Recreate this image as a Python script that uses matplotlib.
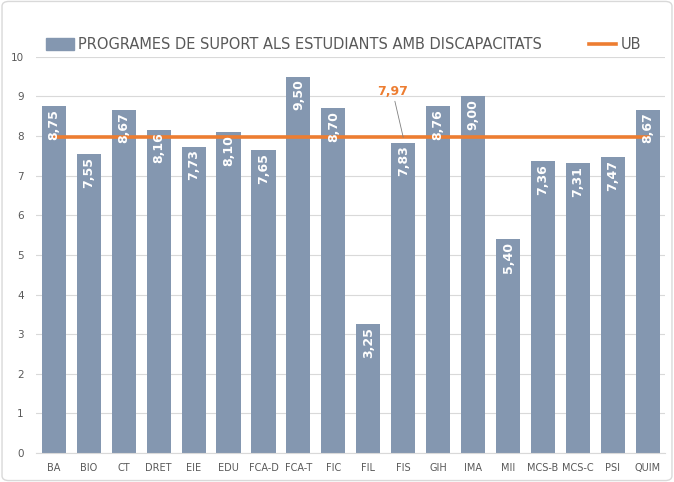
import matplotlib.pyplot as plt
import matplotlib.patches as mpatches
from matplotlib.lines import Line2D

# Data
categories = ['BA', 'BIO', 'CT', 'DRET', 'EIE', 'EDU', 'FCA-D', 'FCA-T', 'FIC',
              'FIL', 'FIS', 'GIH', 'IMA', 'MII', 'MCS-B', 'MCS-C', 'PSI', 'QUIM']
values = [8.75, 7.55, 8.67, 8.16, 7.73, 8.10, 7.65, 9.50, 8.70,
          3.25, 7.83, 8.76, 9.00, 5.40, 7.36, 7.31, 7.47, 8.67]
ub_value = 7.97
ub_label_text = '7,97'
series_name = 'PROGRAMES DE SUPORT ALS ESTUDIANTS AMB DISCAPACITATS'
line_name = 'UB'

bar_color = '#8497B0'
line_color = '#ED7D31'
text_color = '#595959'
grid_color = '#D9D9D9'

fig = plt.figure(figsize=(6.74, 4.82), dpi=100)
ax = fig.add_axes([0.054, 0.060, 0.933, 0.822])

x = list(range(len(categories)))
ax.bar(x, values, width=0.69, color=bar_color, zorder=2)
ax.plot(x, [ub_value] * len(x), color=line_color, linewidth=2.6, zorder=3)

# Bar value labels (rotated, inside the top of the bar)
for xi, v in zip(x, values):
    ax.text(xi, v - 0.07, f'{v:.2f}'.replace('.', ','), rotation=90,
            ha='center', va='top', color='white', fontsize=9,
            fontweight='bold', zorder=4)

# UB label with leader line
ax.annotate(ub_label_text, xy=(10, ub_value), xytext=(9.7, 8.95),
            ha='center', va='bottom', color=line_color, fontsize=9,
            fontweight='bold',
            arrowprops=dict(arrowstyle='-', color='#7F7F7F', linewidth=0.6,
                            shrinkA=0, shrinkB=0),
            zorder=5)

ax.set_xlim(-0.5, len(categories) - 0.5)
ax.set_ylim(0, 10)
ax.set_yticks(range(0, 11))
ax.set_xticks(x)
ax.set_xticklabels(categories, fontsize=7, color=text_color)
ax.tick_params(axis='y', labelsize=7.5, labelcolor=text_color, length=0, pad=9)
ax.tick_params(axis='x', length=0, pad=7)
ax.yaxis.grid(True, color=grid_color, linewidth=0.8, zorder=0)
ax.set_axisbelow(True)
for side in ['top', 'right', 'left']:
    ax.spines[side].set_visible(False)
ax.spines['bottom'].set_color(grid_color)

# Legend
handles = [mpatches.Patch(color=bar_color, label=series_name),
           Line2D([0], [0], color=line_color, linewidth=2.6, label=line_name)]
fig.legend(handles=handles, loc='center', bbox_to_anchor=(0.51, 0.907),
           ncol=2, frameon=False, fontsize=10.5, labelcolor=text_color,
           handlelength=1.9, handleheight=0.9, handletextpad=0.3,
           columnspacing=3.2)

# Outer border
border = mpatches.FancyBboxPatch((0.003, 0.003), 0.994, 0.994,
                                 boxstyle='round,pad=0,rounding_size=0.01',
                                 transform=fig.transFigure, fill=False,
                                 edgecolor='#D9D9D9', linewidth=1)
fig.patches.append(border)

fig.savefig('out.png', dpi=100)
